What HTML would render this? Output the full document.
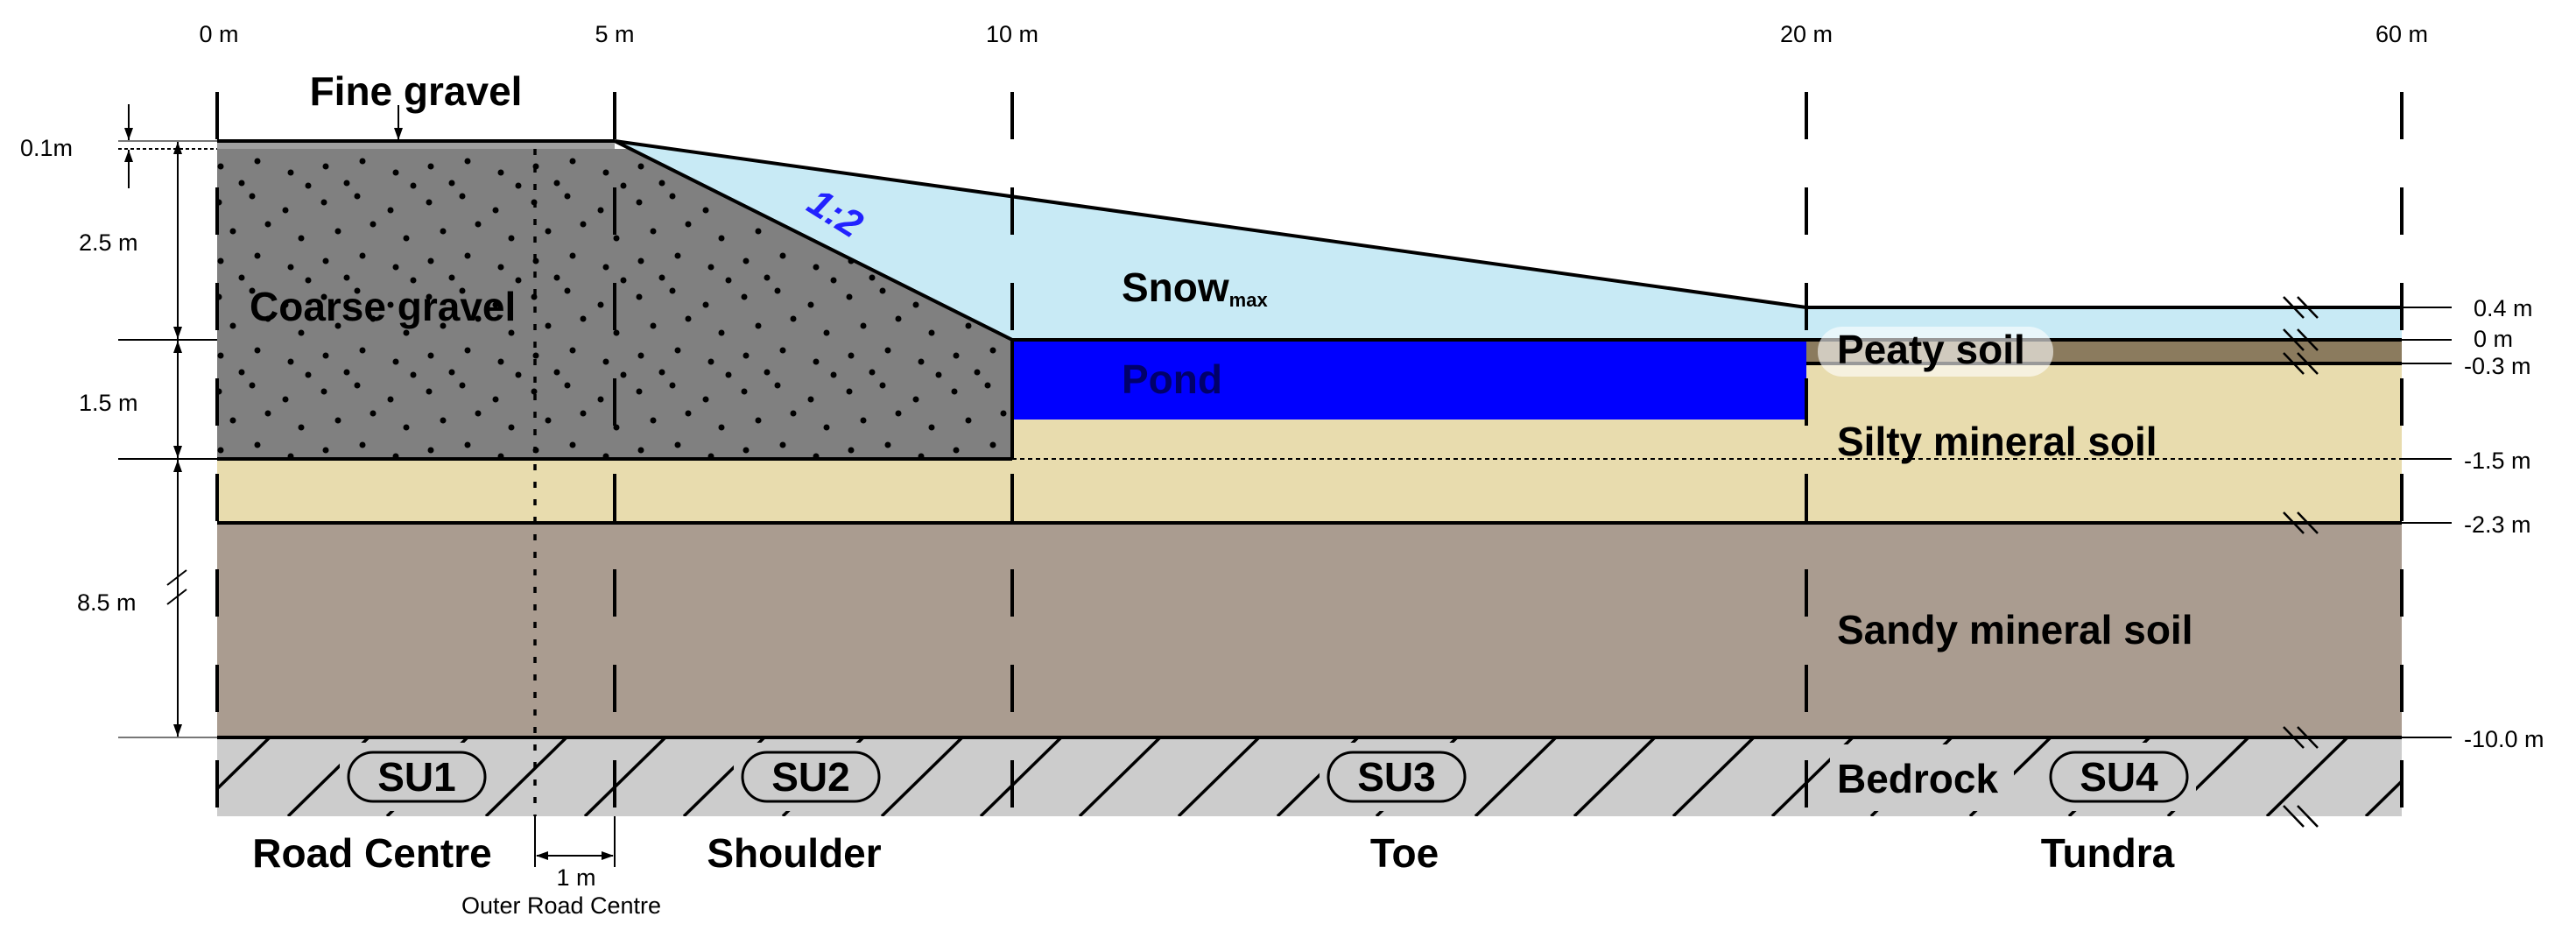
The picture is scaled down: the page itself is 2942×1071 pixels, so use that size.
<!DOCTYPE html>
<html><head><meta charset="utf-8"><style>
html,body{margin:0;padding:0;background:#fff;}
svg{display:block;font-family:"Liberation Sans",sans-serif;}
.b{font-weight:bold;font-size:46px;fill:#000;}
.r{font-size:27px;fill:#000;}
</style></head><body>
<svg width="2942" height="1071" viewBox="0 0 2942 1071" xmlns="http://www.w3.org/2000/svg">
<defs>
<pattern id="dots" width="120" height="108" patternUnits="userSpaceOnUse">
<g fill="#000">
<circle cx="10" cy="15" r="3.5"/><circle cx="48" cy="8" r="3.5"/><circle cx="86" cy="24" r="3.5"/>
<circle cx="26" cy="48" r="3.5"/><circle cx="66" cy="40" r="3.5"/><circle cx="104" cy="56" r="3.5"/>
<circle cx="12" cy="82" r="3.5"/><circle cx="54" cy="76" r="3.5"/><circle cx="92" cy="89" r="3.5"/>
<circle cx="36" cy="101" r="3.5"/><circle cx="112" cy="104" r="3.5"/>
</g></pattern>
<clipPath id="bed"><rect x="248" y="842" width="2495" height="90"/></clipPath>
</defs>
<rect x="248" y="597" width="2495" height="245" fill="#aa9c90"/>
<rect x="248" y="388" width="2495" height="209" fill="#e8dcae"/>
<rect x="2063" y="388" width="680" height="27" fill="#8b7b5e"/>
<rect x="1156" y="388" width="907" height="91" fill="#0000ff"/>
<polygon points="702,161 2063,351 2743,351 2743,388 1156,388" fill="#c8eaf5"/>
<rect x="248" y="161" width="454" height="9" fill="#a0a0a0"/>
<polygon points="248,170 720,170 1156,388 1156,524 248,524" fill="#808080"/>
<polygon points="248,170 720,170 1156,388 1156,524 248,524" fill="url(#dots)"/>
<rect x="248" y="842" width="2495" height="90" fill="#cccccc"/>
<g clip-path="url(#bed)" stroke="#000" stroke-width="3.5">
<line x1="308" y1="842" x2="216" y2="932"/><line x1="421" y1="842" x2="329" y2="932"/><line x1="534" y1="842" x2="442" y2="932"/><line x1="647" y1="842" x2="555" y2="932"/><line x1="760" y1="842" x2="668" y2="932"/><line x1="873" y1="842" x2="781" y2="932"/><line x1="986" y1="842" x2="894" y2="932"/><line x1="1099" y1="842" x2="1007" y2="932"/><line x1="1212" y1="842" x2="1120" y2="932"/><line x1="1325" y1="842" x2="1233" y2="932"/><line x1="1438" y1="842" x2="1346" y2="932"/><line x1="1551" y1="842" x2="1459" y2="932"/><line x1="1664" y1="842" x2="1572" y2="932"/><line x1="1777" y1="842" x2="1685" y2="932"/><line x1="1890" y1="842" x2="1798" y2="932"/><line x1="2003" y1="842" x2="1911" y2="932"/><line x1="2116" y1="842" x2="2024" y2="932"/><line x1="2229" y1="842" x2="2137" y2="932"/><line x1="2342" y1="842" x2="2250" y2="932"/><line x1="2455" y1="842" x2="2363" y2="932"/><line x1="2568" y1="842" x2="2476" y2="932"/><line x1="2681" y1="842" x2="2589" y2="932"/><line x1="2794" y1="842" x2="2702" y2="932"/>
</g>
<g fill="#cccccc">
<rect x="388" y="848" width="176" height="78" rx="20"/><rect x="838" y="848" width="176" height="78" rx="20"/>
<rect x="1507" y="848" width="176" height="78" rx="20"/><rect x="2332" y="848" width="176" height="78" rx="20"/>
<rect x="2090" y="850" width="210" height="76"/>
</g>
<g fill="#cccccc" stroke="#000" stroke-width="3">
<rect x="398" y="859" width="156" height="56" rx="28"/><rect x="848" y="859" width="156" height="56" rx="28"/>
<rect x="1517" y="859" width="156" height="56" rx="28"/><rect x="2342" y="859" width="156" height="56" rx="28"/>
</g>
<g text-anchor="middle">
<text x="476" y="903" class="b" font-size="42">SU1</text><text x="926" y="903" class="b" font-size="42">SU2</text>
<text x="1595" y="903" class="b" font-size="42">SU3</text><text x="2420" y="903" class="b" font-size="42">SU4</text>
</g>
<g stroke="#000" stroke-width="4" fill="none">
<line x1="248" y1="161" x2="702" y2="161"/>
<line x1="702" y1="161" x2="2063" y2="351"/>
<line x1="702" y1="161" x2="1156" y2="388"/>
<line x1="2063" y1="351" x2="2743" y2="351"/>
<line x1="1156" y1="388" x2="2743" y2="388"/>
<line x1="2063" y1="415" x2="2743" y2="415"/>
<line x1="248" y1="524" x2="1156" y2="524"/>
<line x1="1156" y1="388" x2="1156" y2="524"/>
<line x1="248" y1="597" x2="2743" y2="597"/>
<line x1="248" y1="842" x2="2743" y2="842"/>
</g>
<line x1="1156" y1="524" x2="2743" y2="524" stroke="#000" stroke-width="2" stroke-dasharray="5,4"/>
<g stroke="#000" stroke-width="4" stroke-dasharray="54,55">
<line x1="248" y1="105" x2="248" y2="932"/><line x1="702" y1="105" x2="702" y2="932"/>
<line x1="1156" y1="105" x2="1156" y2="932"/><line x1="2063" y1="105" x2="2063" y2="932"/>
<line x1="2743" y1="105" x2="2743" y2="932"/>
</g>
<line x1="611" y1="170" x2="611" y2="932" stroke="#000" stroke-width="3.5" stroke-dasharray="7,13"/>
<rect x="2076" y="373" width="269" height="57" rx="28" fill="#fff" fill-opacity="0.6"/>
<text x="475" y="120" class="b" text-anchor="middle">Fine gravel</text>
<text x="285" y="366" class="b">Coarse gravel</text>
<text x="1281" y="344" class="b">Snow<tspan font-size="22" dy="6">max</tspan></text>
<text x="1281" y="449" class="b" style="fill:#00006a">Pond</text>
<text x="2098" y="415" class="b">Peaty soil</text>
<text x="2098" y="520" class="b">Silty mineral soil</text>
<text x="2098" y="735" class="b">Sandy mineral soil</text>
<text x="2098" y="905" class="b">Bedrock</text>
<text x="425" y="990" class="b" text-anchor="middle">Road Centre</text>
<text x="907" y="990" class="b" text-anchor="middle">Shoulder</text>
<text x="1604" y="990" class="b" text-anchor="middle">Toe</text>
<text x="2407" y="990" class="b" text-anchor="middle">Tundra</text>
<text x="953" y="258" font-size="44" font-weight="bold" font-style="italic" fill="#2222ff" text-anchor="middle" transform="rotate(32 953 245)">1:2</text>
<g text-anchor="middle">
<text x="250" y="48" class="r">0 m</text><text x="702" y="48" class="r">5 m</text>
<text x="1156" y="48" class="r">10 m</text><text x="2063" y="48" class="r">20 m</text>
<text x="2743" y="48" class="r">60 m</text>
</g>
<g stroke="#000" stroke-width="2">
<line x1="2743" y1="351" x2="2800" y2="351"/><line x1="2743" y1="388" x2="2800" y2="388"/>
<line x1="2743" y1="415" x2="2800" y2="415"/><line x1="2743" y1="524" x2="2800" y2="524"/>
<line x1="2743" y1="597" x2="2800" y2="597"/><line x1="2743" y1="842" x2="2800" y2="842"/>
</g>
<text x="2825" y="361" class="r">0.4 m</text><text x="2825" y="396" class="r">0 m</text>
<text x="2814" y="427" class="r">-0.3 m</text><text x="2814" y="535" class="r">-1.5 m</text>
<text x="2814" y="608" class="r">-2.3 m</text><text x="2814" y="853" class="r">-10.0 m</text>
<g stroke="#000" stroke-width="2.5">
<path d="M2608 339 l23 24 M2624 339 l23 24"/>
<path d="M2608 376 l23 24 M2624 376 l23 24"/>
<path d="M2608 403 l23 24 M2624 403 l23 24"/>
<path d="M2608 585 l23 24 M2624 585 l23 24"/>
<path d="M2608 830 l23 24 M2624 830 l23 24"/>
<path d="M2608 920 l23 24 M2624 920 l23 24"/>
</g>
<g stroke="#000" stroke-width="2" fill="none">
<line x1="135" y1="161" x2="248" y2="161" stroke="#777"/>
<line x1="135" y1="170" x2="248" y2="170" stroke-dasharray="4,3"/>
<line x1="135" y1="388" x2="248" y2="388"/>
<line x1="135" y1="524" x2="248" y2="524"/>
<line x1="135" y1="842" x2="248" y2="842" stroke="#777"/>
<line x1="147" y1="119" x2="147" y2="160"/>
<line x1="147" y1="171" x2="147" y2="215"/>
<line x1="203" y1="162" x2="203" y2="841"/>
<line x1="455" y1="120" x2="455" y2="160"/>
<path d="M191 668 l22 -17 M191 690 l22 -17"/>
<line x1="611" y1="932" x2="611" y2="990"/><line x1="702" y1="932" x2="702" y2="990"/>
<line x1="613" y1="977" x2="700" y2="977"/>
</g>
<g fill="#000">
<path d="M147 160 l-5 -14 l10 0 z"/><path d="M147 171 l-5 14 l10 0 z"/>
<path d="M455 160 l-5 -14 l10 0 z"/>
<path d="M203 162 l-5 14 l10 0 z"/><path d="M203 387 l-5 -14 l10 0 z"/>
<path d="M203 389 l-5 14 l10 0 z"/><path d="M203 523 l-5 -14 l10 0 z"/>
<path d="M203 525 l-5 14 l10 0 z"/><path d="M203 841 l-5 -14 l10 0 z"/>
<path d="M612 977 l14 -5 l0 10 z"/><path d="M701 977 l-14 -5 l0 10 z"/>
</g>
<text x="23" y="178" class="r" font-size="25">0.1m</text>
<text x="90" y="286" class="r">2.5 m</text>
<text x="90" y="469" class="r">1.5 m</text>
<text x="88" y="697" class="r">8.5 m</text>
<text x="658" y="1011" class="r" text-anchor="middle">1 m</text>
<text x="641" y="1043" class="r" text-anchor="middle">Outer Road Centre</text>
</svg>
</body></html>
